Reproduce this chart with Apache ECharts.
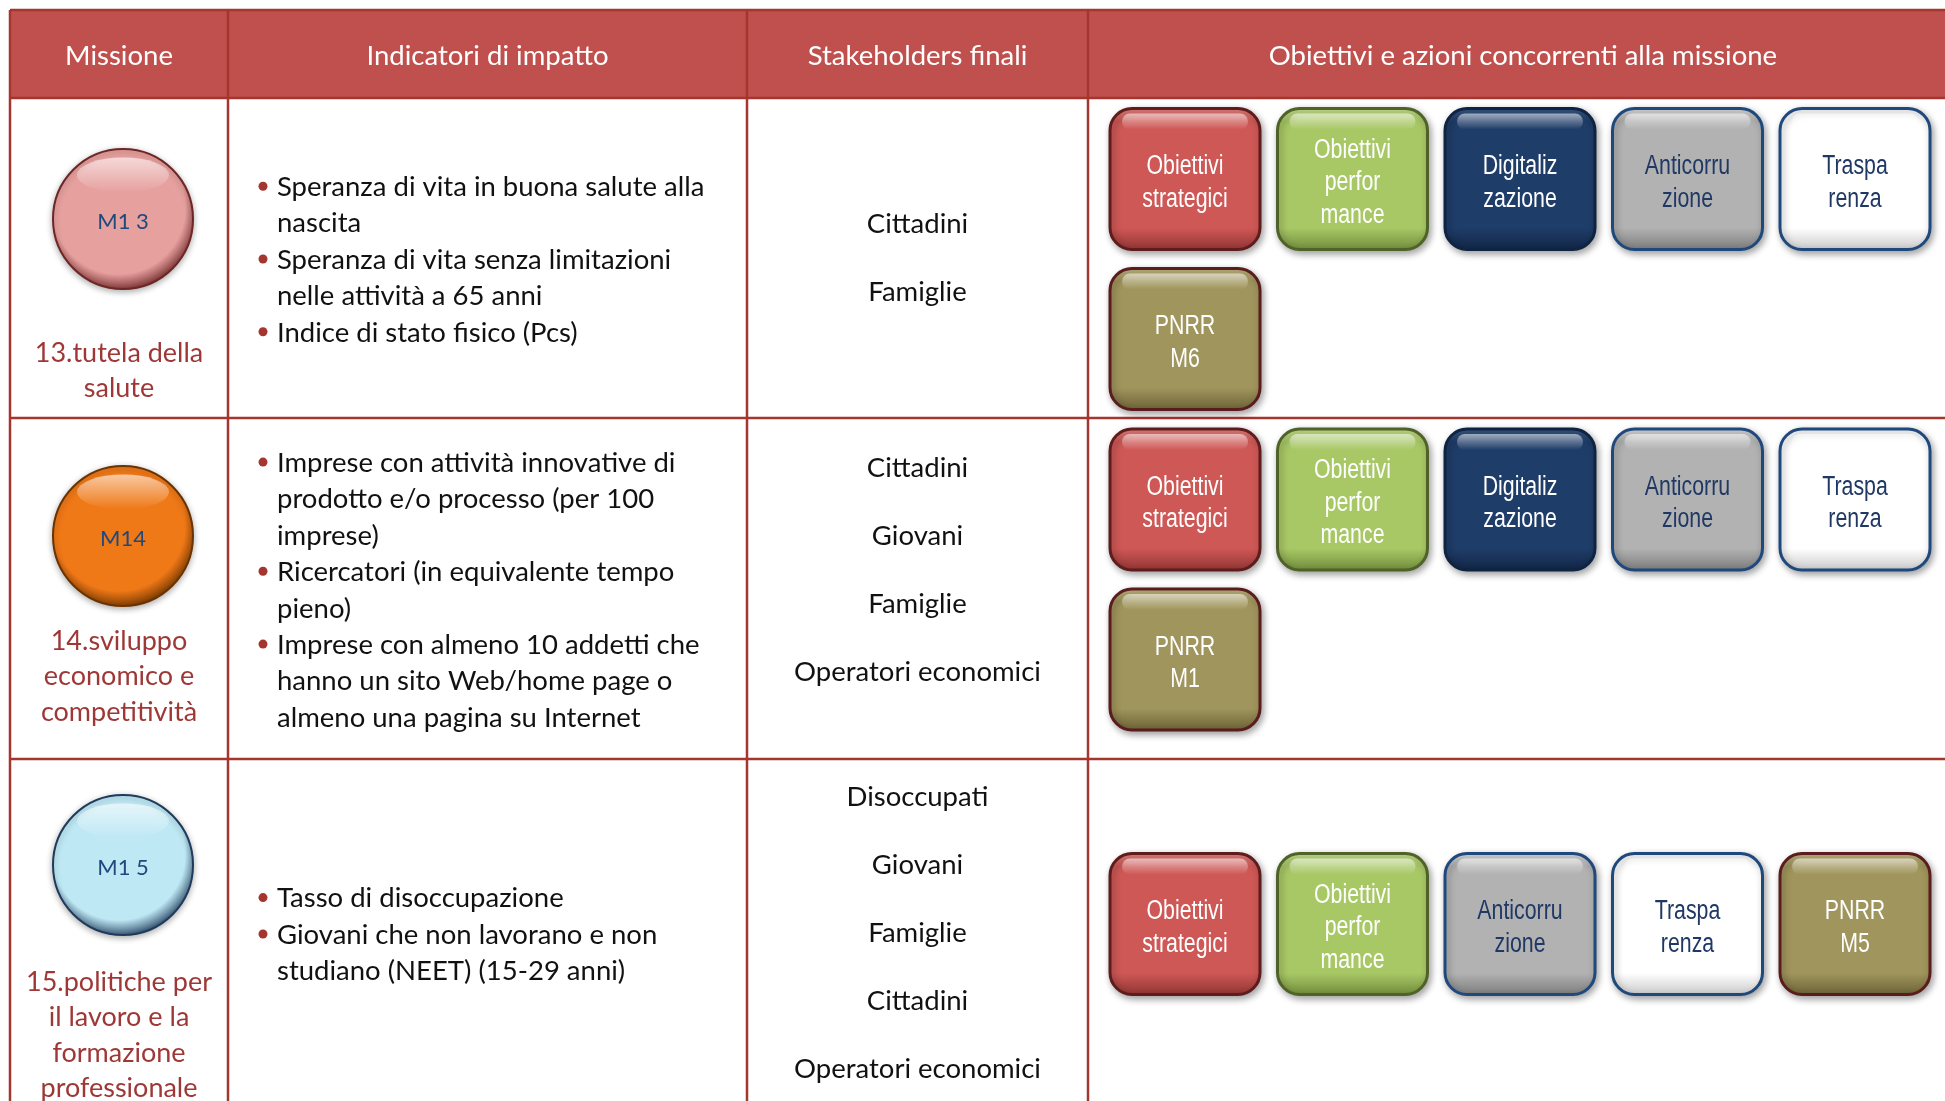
<!DOCTYPE html>
<html><head><meta charset="utf-8">
<script src="https://cdn.jsdelivr.net/npm/echarts@6/dist/echarts.min.js"></script>
<style>html,body{margin:0;padding:0;background:#fff}#c{width:1945px;height:1101px}</style>
</head><body><div id="c"></div>
<script>
// ---- DATA ----
const headers = ["Missione", "Indicatori di impatto", "Stakeholders finali", "Obiettivi e azioni concorrenti alla missione"];
const missionCodes = ["M1 3", "M14", "M1 5"];
const missionKinds = ["pink", "orange", "blue"];
const missionNames = [
  ["13.tutela della", "salute"],
  ["14.sviluppo", "economico e", "competitività"],
  ["15.politiche per", "il lavoro e la", "formazione", "professionale"]
];
const indicators = [
  [["Speranza di vita in buona salute alla", "nascita"], ["Speranza di vita senza limitazioni", "nelle attività a 65 anni"], ["Indice di stato fisico (Pcs)"]],
  [["Imprese con attività innovative di", "prodotto e/o processo (per 100", "imprese)"], ["Ricercatori (in equivalente tempo", "pieno)"], ["Imprese con almeno 10 addetti che", "hanno un sito Web/home page o", "almeno una pagina su Internet"]],
  [["Tasso di disoccupazione"], ["Giovani che non lavorano e non", "studiano (NEET) (15-29 anni)"]]
];
const stakeholders = [
  ["Cittadini", "Famiglie"],
  ["Cittadini", "Giovani", "Famiglie", "Operatori economici"],
  ["Disoccupati", "Giovani", "Famiglie", "Cittadini", "Operatori economici"]
];
const actionLabels = {
  strategici: "Obiettivi\nstrategici",
  performance: "Obiettivi\nperfor\nmance",
  digital: "Digitaliz\nzazione",
  anticorr: "Anticorru\nzione",
  traspar: "Traspa\nrenza"
};
const pnrrLabels = ["PNRR\nM6", "PNRR\nM1", "PNRR\nM5"];
const actions = [
  [["strategici", "performance", "digital", "anticorr", "traspar"], ["pnrr"]],
  [["strategici", "performance", "digital", "anticorr", "traspar"], ["pnrr"]],
  [["strategici", "performance", "anticorr", "traspar", "pnrr"]]
];

// ---- STYLES / LAYOUT ----
const colX = [10, 228, 747, 1088, 1962];
const rowY = [10, 98, 418, 759, 1107];
const borderColor = "#A5352F";
const headerFill = "#C0504D";
const bodyFont = "Lato, 'Open Sans', sans-serif";
const boxStyles = {
  strategici: {base: "#CE5856", light: "#F08A86", dark: "#8E3432", stroke: "#5E1C1C", text: "#ffffff"},
  performance: {base: "#A8C866", light: "#D0EA92", dark: "#6F8A3A", stroke: "#4F6228", text: "#ffffff"},
  digital: {base: "#1F3D69", light: "#3D5E8E", dark: "#112544", stroke: "#0F2442", text: "#ffffff"},
  anticorr: {base: "#B2B2B2", light: "#E6E6E6", dark: "#7A7A7A", stroke: "#1F497D", text: "#1F3864"},
  traspar: {base: "#FFFFFF", light: "#FFFFFF", dark: "#C8C8C8", stroke: "#1F497D", text: "#1F3864"},
  pnrr: {base: "#A0955C", light: "#CBC088", dark: "#6A6136", stroke: "#5A1C1C", text: "#ffffff"}
};
const circleStyles = {
  pink: {base: "#E6A09E", rim: "#6E2626"},
  orange: {base: "#EF7817", rim: "#6B3300"},
  blue: {base: "#BEE8F4", rim: "#1F3B5C"}
};
const circleOff = [121, 118, 106];
const nameOff = [255, 223, 223];
const stakeOff = [0, -18, 0];
const boxOff = [1, -9, -9];

const els = [];
// header background
els.push({type: 'rect', z: 1, shape: {x: colX[0], y: rowY[0], width: colX[4] - colX[0], height: rowY[1] - rowY[0]}, style: {fill: headerFill}});
headers.forEach((h, i) => {
  els.push({type: 'text', z: 5, x: (colX[i] + colX[i + 1]) / 2 + (i === 3 ? -2 : 0), y: (rowY[0] + rowY[1]) / 2 + 2,
    style: {text: h, fill: '#fff', font: "27.5px " + bodyFont, align: 'center', verticalAlign: 'middle'}});
});
// grid lines
for (let r = 0; r < rowY.length - 1; r++) {
  els.push({type: 'line', z: 4, shape: {x1: colX[0], y1: rowY[r], x2: colX[4], y2: rowY[r]}, style: {stroke: borderColor, lineWidth: 2.5}});
}
for (let c = 0; c < colX.length - 1; c++) {
  els.push({type: 'line', z: 4, shape: {x1: colX[c], y1: rowY[0], x2: colX[c], y2: rowY[4]}, style: {stroke: borderColor, lineWidth: 2.5}});
}

for (let r = 0; r < 3; r++) {
  const top = rowY[r + 1], bot = rowY[r + 2], mid = (top + bot) / 2;
  // mission circle
  const cs = circleStyles[missionKinds[r]];
  const cx = (colX[0] + colX[1]) / 2 + 4, cy = top + circleOff[r];
  els.push({type: 'circle', z: 5, shape: {cx: cx, cy: cy, r: 70},
    style: {fill: {type: 'radial', x: 0.47, y: 0.42, r: 0.6, colorStops: [{offset: 0, color: cs.base}, {offset: 0.78, color: cs.base}, {offset: 1, color: cs.rim}]},
      stroke: cs.rim, lineWidth: 2, shadowBlur: 6, shadowColor: 'rgba(0,0,0,0.3)', shadowOffsetY: 2}});
  els.push({type: 'circle', z: 6, x: cx, y: cy - 44, scaleY: 0.38, shape: {cx: 0, cy: 0, r: 46},
    style: {fill: {type: 'linear', x: 0, y: 0, x2: 0, y2: 1, colorStops: [{offset: 0, color: 'rgba(255,255,255,0.6)'}, {offset: 1, color: 'rgba(255,255,255,0)'}]}}});
  els.push({type: 'text', z: 7, x: cx, y: cy + 3, style: {text: missionCodes[r], fill: '#1F497D', font: "22px " + bodyFont, align: 'center', verticalAlign: 'middle'}});
  missionNames[r].forEach((t, k) => {
    els.push({type: 'text', z: 5, x: (colX[0] + colX[1]) / 2, y: top + nameOff[r] + k * 35.5,
      style: {text: t, fill: '#9E3836', font: "27px " + bodyFont, align: 'center', verticalAlign: 'middle'}});
  });
  // indicators
  const lines = [];
  indicators[r].forEach(item => item.forEach((t, k) => lines.push({t: t, bullet: k === 0})));
  const lh = 36.4;
  const y0 = mid - (lines.length - 1) * lh / 2 + 2;
  lines.forEach((ln, k) => {
    const y = y0 + k * lh;
    if (ln.bullet) els.push({type: 'circle', z: 5, shape: {cx: 263, cy: y - 1, r: 4.5}, style: {fill: borderColor}});
    els.push({type: 'text', z: 5, x: 277, y: y, style: {text: ln.t, fill: '#111', font: "27.5px " + bodyFont, align: 'left', verticalAlign: 'middle'}});
  });
  // stakeholders
  const sh = stakeholders[r], sp = 68;
  sh.forEach((t, k) => {
    els.push({type: 'text', z: 5, x: (colX[2] + colX[3]) / 2, y: mid + stakeOff[r] - (sh.length - 1) * sp / 2 + k * sp,
      style: {text: t, fill: '#111', font: "27.5px " + bodyFont, align: 'center', verticalAlign: 'middle'}});
  });
  // action boxes
  const bw = 150, bh = 141, pitch = 167.5, gapY = 19;
  const rowsB = actions[r];
  const blockH = rowsB.length * bh + (rowsB.length - 1) * gapY;
  const by0 = mid - blockH / 2 + boxOff[r];
  rowsB.forEach((list, li) => {
    list.forEach((kind, bi) => {
      const st = boxStyles[kind];
      const x = 1110 + bi * pitch, y = by0 + li * (bh + gapY);
      const label = kind === 'pnrr' ? pnrrLabels[r] : actionLabels[kind];
      els.push({type: 'rect', z: 5, shape: {x: x, y: y, width: bw, height: bh, r: 22},
        style: {fill: {type: 'linear', x: 0, y: 0, x2: 0, y2: 1, colorStops: [{offset: 0, color: st.light}, {offset: 0.1, color: st.base}, {offset: 0.84, color: st.base}, {offset: 1, color: st.dark}]},
          stroke: st.stroke, lineWidth: 3, shadowBlur: 7, shadowColor: 'rgba(0,0,0,0.35)', shadowOffsetX: 2, shadowOffsetY: 3}});
      els.push({type: 'rect', z: 6, shape: {x: x + 12, y: y + 5, width: bw - 24, height: 16, r: 8},
        style: {fill: {type: 'linear', x: 0, y: 0, x2: 0, y2: 1, colorStops: [{offset: 0, color: 'rgba(255,255,255,0.55)'}, {offset: 1, color: 'rgba(255,255,255,0)'}]}}});
      els.push({type: 'text', z: 7, x: x + bw / 2, y: y + bh / 2 + 4, scaleX: 0.79,
        style: {text: label, fill: st.text, font: "27px 'Liberation Sans', Arial, sans-serif", lineHeight: 32.5, align: 'center', verticalAlign: 'middle'}});
    });
  });
}

const chart = echarts.init(document.getElementById('c'), null, {renderer: 'canvas'});
chart.setOption({backgroundColor: '#ffffff', animation: false, graphic: {elements: els}});
</script>
</body></html>
